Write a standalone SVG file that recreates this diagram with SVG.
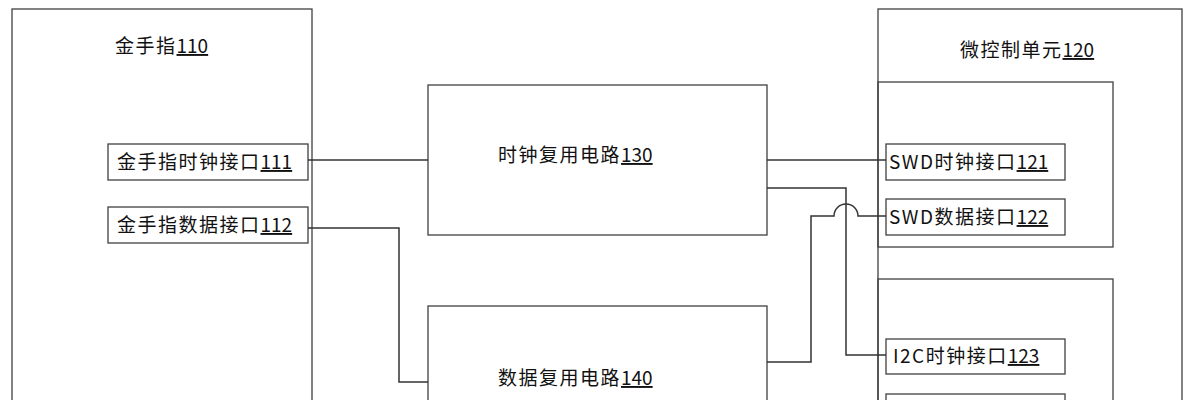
<svg xmlns="http://www.w3.org/2000/svg" width="1191" height="400" viewBox="0 0 1191 400">
<style>
.b{fill:none;stroke:#404040;stroke-width:1.3}
.c{fill:none;stroke:#333;stroke-width:1.5}
text{font-family:"Noto Sans CJK SC","Liberation Sans",sans-serif;font-size:19px;fill:#111;letter-spacing:1.5px}
.u{text-decoration:underline;letter-spacing:0}
</style>
<rect width="1191" height="400" fill="#fff"/>
<g id="n110"><rect class="b" x="12" y="9" width="300" height="400"/><text x="115" y="53">金手指<tspan class="u">110</tspan></text></g>
<g id="n111"><rect class="b" x="108" y="144" width="200" height="36"/><text x="117" y="169">金手指时钟接口<tspan class="u">111</tspan></text></g>
<g id="n112"><rect class="b" x="108" y="207" width="200" height="36"/><text x="117" y="232">金手指数据接口<tspan class="u">112</tspan></text></g>
<g id="n130"><rect class="b" x="428" y="85" width="339" height="150"/><text x="498" y="162">时钟复用电路<tspan class="u">130</tspan></text></g>
<g id="n140"><rect class="b" x="428" y="306" width="339" height="120"/><text x="498" y="385">数据复用电路<tspan class="u">140</tspan></text></g>
<g id="n120"><rect class="b" x="878" y="9" width="304" height="400"/><text x="960" y="57">微控制单元<tspan class="u">120</tspan></text></g>
<g id="g1"><rect class="b" x="878" y="82" width="235" height="165"/></g>
<g id="g2"><rect class="b" x="878" y="279" width="235" height="140"/></g>
<g id="n121"><rect class="b" x="886" y="144" width="179" height="36"/><text x="889" y="169">SWD时钟接口<tspan class="u">121</tspan></text></g>
<g id="n122"><rect class="b" x="886" y="199" width="179" height="36"/><text x="889" y="224">SWD数据接口<tspan class="u">122</tspan></text></g>
<g id="n123"><rect class="b" x="886" y="339" width="179" height="35"/><text x="893" y="363">I2C时钟接口<tspan class="u">123</tspan></text></g>
<g id="n124"><rect class="b" x="886" y="394" width="179" height="35"/><text x="893" y="417">I2C数据接口<tspan class="u">124</tspan></text></g>
<g id="connectors">
<path class="c" d="M308 160H428"/>
<path class="c" d="M308 228H399V382H428"/>
<path class="c" d="M767 160H886"/>
<path class="c" d="M767 188H846V355H886"/>
<path class="c" d="M767 362H811V216H834A12 12 0 0 1 858 216H886"/>
</g>
</svg>
